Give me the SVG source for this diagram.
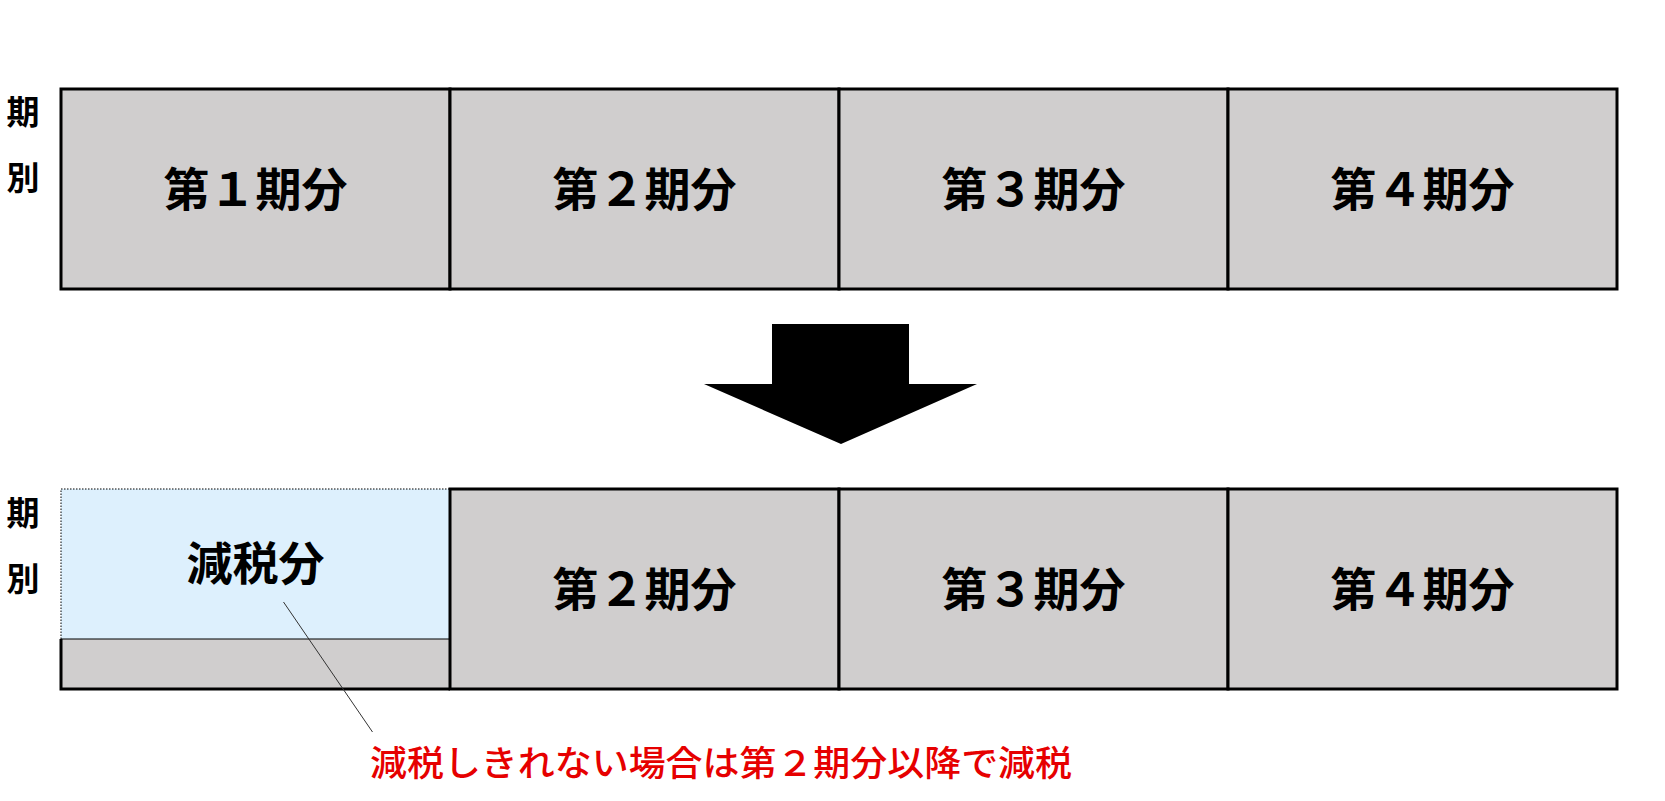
<svg xmlns="http://www.w3.org/2000/svg" width="1665" height="801" viewBox="0 0 1665 801">
<style>
.cell{fill:#d0cece;stroke:#000;stroke-width:3}
.lbl{font-family:"Noto Sans CJK JP",sans-serif;font-weight:bold;font-size:46px;fill:#000;text-anchor:middle;dominant-baseline:central}
.side{font-family:"Noto Sans CJK JP",sans-serif;font-weight:bold;font-size:33px;fill:#000;text-anchor:middle;dominant-baseline:central}
.note{font-family:"Noto Sans CJK JP",sans-serif;font-weight:500;font-size:35px;fill:#e60000;dominant-baseline:central}
</style>
<rect width="1665" height="801" fill="#fff"/>
<g id="side-top">
<text class="side" x="23" y="110">期</text>
<text class="side" x="23" y="176">別</text>
</g>
<g id="side-bottom">
<text class="side" x="23" y="511">期</text>
<text class="side" x="23" y="577">別</text>
</g>
<g id="top-1"><rect class="cell" x="61" y="89" width="389" height="200"/><text class="lbl" x="255.5" y="186">第１期分</text></g>
<g id="top-2"><rect class="cell" x="450" y="89" width="389" height="200"/><text class="lbl" x="644.5" y="186">第２期分</text></g>
<g id="top-3"><rect class="cell" x="839" y="89" width="389" height="200"/><text class="lbl" x="1033.5" y="186">第３期分</text></g>
<g id="top-4"><rect class="cell" x="1228" y="89" width="389" height="200"/><text class="lbl" x="1422.5" y="186">第４期分</text></g>
<g id="arrow">
<polygon points="772,324 909,324 909,384 977,384 841,444 704,384 772,384" fill="#000"/>
</g>
<g id="bottom-1">
<rect x="61" y="489" width="389" height="150" fill="#ddf0fd"/>
<path d="M61,639 V489 H450" fill="none" stroke="#000" stroke-width="1" stroke-dasharray="1.5,1.5"/>
<rect x="61" y="639" width="389" height="50" fill="#d0cece"/>
<line x1="61" y1="639" x2="450" y2="639" stroke="#000" stroke-width="1.2"/>
<path d="M61,639 V689 H450" fill="none" stroke="#000" stroke-width="3"/>
<text class="lbl" x="255.5" y="560">減税分</text>
</g>
<g id="bottom-2"><rect class="cell" x="450" y="489" width="389" height="200"/><text class="lbl" x="644.5" y="586">第２期分</text></g>
<g id="bottom-3"><rect class="cell" x="839" y="489" width="389" height="200"/><text class="lbl" x="1033.5" y="586">第３期分</text></g>
<g id="bottom-4"><rect class="cell" x="1228" y="489" width="389" height="200"/><text class="lbl" x="1422.5" y="586">第４期分</text></g>
<g id="connectors">
<line x1="283.5" y1="602" x2="372.5" y2="732" stroke="#333" stroke-width="1"/>
</g>
<g id="note">
<text class="note" x="370" y="760" textLength="702" lengthAdjust="spacingAndGlyphs">減税しきれない場合は第２期分以降で減税</text>
</g>
</svg>
